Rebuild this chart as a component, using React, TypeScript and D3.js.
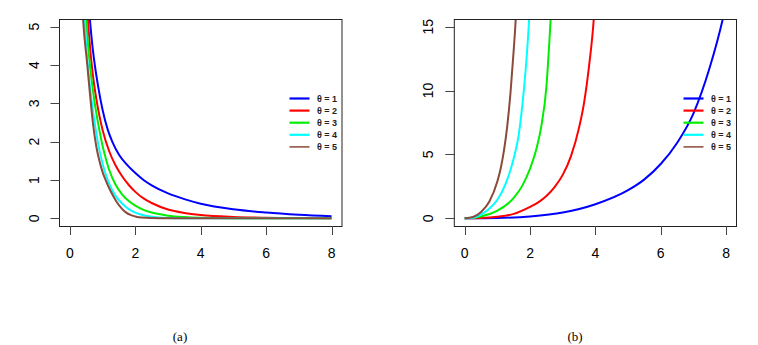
import React from "react";
import * as d3 from "d3";

// ---------- data ----------
const thetaLabels = ["θ = 1", "θ = 2", "θ = 3", "θ = 4", "θ = 5"];
const seriesColors = ["#0000ff", "#ff0000", "#00ee00", "#00ffff", "#8b4a3a"];
const xTicks = [0, 2, 4, 6, 8];
const yTicksA = [0, 1, 2, 3, 4, 5];
const yTicksB = [0, 5, 10, 15];

// panel (a): decreasing curves
const a1: [number, number][] = [[0.55, 6.0], [0.61, 5.2], [0.68, 4.55], [0.76, 4.0], [0.86, 3.45], [1.0, 2.82], [1.16, 2.3], [1.3, 1.99], [1.5, 1.66], [1.72, 1.42], [2.0, 1.18], [2.25, 1.0], [2.5, 0.86], [3, 0.65], [3.5, 0.5], [4, 0.38], [5, 0.235], [6, 0.152], [7, 0.095], [8, 0.055]];
const a2: [number, number][] = [[0.5, 6.0], [0.55, 5.2], [0.62, 4.4], [0.7, 3.75], [0.8, 3.15], [0.9, 2.68], [1.0, 2.3], [1.2, 1.75], [1.4, 1.37], [1.6, 1.09], [1.8, 0.87], [2.0, 0.69], [2.25, 0.52], [2.5, 0.4], [3, 0.23], [3.5, 0.14], [4, 0.085], [5, 0.035], [6, 0.015], [7, 0.007], [8, 0.003]];
const a3: [number, number][] = [[0.46, 6.0], [0.5, 5.2], [0.56, 4.45], [0.63, 3.85], [0.7, 3.35], [0.8, 2.78], [0.9, 2.3], [1.0, 1.88], [1.1, 1.55], [1.2, 1.26], [1.4, 0.87], [1.6, 0.62], [1.8, 0.45], [2.0, 0.33], [2.25, 0.22], [2.5, 0.15], [3, 0.07], [3.5, 0.033], [4, 0.015], [5, 0.003], [8, 0.0]];
const a4: [number, number][] = [[0.41, 6.0], [0.45, 5.2], [0.5, 4.5], [0.58, 3.7], [0.68, 2.95], [0.79, 2.3], [0.9, 1.78], [1.0, 1.42], [1.1, 1.13], [1.2, 0.9], [1.4, 0.58], [1.6, 0.38], [1.8, 0.24], [2.0, 0.15], [2.25, 0.08], [2.5, 0.04], [3, 0.01], [3.5, 0.002], [4, 0.0], [8, 0.0]];
const a5: [number, number][] = [[0.35, 6.0], [0.4, 5.2], [0.53, 4.0], [0.6, 3.35], [0.7, 2.5], [0.8, 1.9], [0.9, 1.5], [1.0, 1.2], [1.1, 0.98], [1.25, 0.7], [1.42, 0.44], [1.6, 0.24], [1.72, 0.15], [1.85, 0.09], [2.0, 0.05], [2.2, 0.02], [2.5, 0.006], [3, 0.001], [8, 0.0]];

// panel (b): increasing curves
const b1: [number, number][] = [[0, 0], [1, 0.03], [2, 0.15], [3, 0.45], [4, 1.1], [5, 2.2], [5.5, 3.05], [6, 4.25], [6.5, 5.9], [7, 8.2], [7.5, 11.8], [7.9, 15.6], [8.1, 18]];
const b2: [number, number][] = [[0, 0], [0.5, 0.02], [1, 0.12], [1.5, 0.35], [2, 0.9], [2.25, 1.25], [2.5, 1.75], [2.75, 2.45], [3, 3.4], [3.25, 4.85], [3.5, 7.1], [3.65, 9.0], [3.8, 11.8], [3.95, 15.6], [4.02, 18.5]];
const b3: [number, number][] = [[0, 0], [0.5, 0.15], [1, 0.6], [1.5, 1.6], [1.75, 2.5], [2, 3.9], [2.2, 5.5], [2.35, 7.3], [2.5, 10.3], [2.63, 15.6], [2.7, 19]];
const b4: [number, number][] = [[0, 0], [0.25, 0.05], [0.5, 0.3], [0.75, 0.75], [1, 1.45], [1.25, 2.7], [1.5, 4.7], [1.65, 6.5], [1.8, 9.8], [1.9, 12.8], [1.97, 15.6], [2.02, 18.5]];
const b5: [number, number][] = [[0, 0], [0.25, 0.1], [0.5, 0.5], [0.75, 1.3], [1, 2.9], [1.1, 3.9], [1.2, 5.3], [1.3, 7.2], [1.4, 9.8], [1.5, 13.2], [1.56, 15.6], [1.6, 18]];

const seriesA = [a1, a2, a3, a4, a5];
const seriesB = [b1, b2, b3, b4, b5];

const W = 758;
const H = 345;
const FONT = "'Liberation Sans', Arial, sans-serif";

type PanelProps = {
  id: string;
  left: number;
  right: number;
  yMax: number;
  yTicks: number[];
  series: [number, number][][];
  legendX: number;
  caption: string;
  captionX: number;
};

function Panel({ id, left, right, yMax, yTicks, series, legendX, caption, captionX }: PanelProps) {
  const top = 19;
  const bottom = 226;
  const x = d3.scaleLinear().domain([-0.32, 8.32]).range([left, right]);
  const pad = yMax * 0.04;
  const y = d3.scaleLinear().domain([-pad, yMax + pad]).range([bottom, top]);
  const line = d3
    .line<[number, number]>()
    .x((d) => x(d[0]))
    .y((d) => y(d[1]))
    .curve(d3.curveMonotoneX);
  return (
    <g>
      <defs>
        <clipPath id={`clip-${id}`}>
          <rect x={left} y={top} width={right - left} height={bottom - top} />
        </clipPath>
      </defs>
      <g clipPath={`url(#clip-${id})`}>
        {series.map((s, i) => (
          <path key={i} d={line(s) || ""} fill="none" stroke={seriesColors[i]} strokeWidth={2} strokeLinejoin="round" />
        ))}
      </g>
      <rect x={left} y={top + 0.5} width={right - left} height={bottom - top} fill="none" stroke="#222" strokeWidth={1} />
      {/* x axis */}
      <line x1={x(0)} x2={x(8)} y1={bottom + 0.5} y2={bottom + 0.5} stroke="#222" />
      {xTicks.map((t) => (
        <g key={t}>
          <line x1={Math.round(x(t)) + 0.5} x2={Math.round(x(t)) + 0.5} y1={bottom} y2={bottom + 9} stroke="#444" />
          <text x={x(t)} y={258} textAnchor="middle" fontFamily={FONT} fontSize={14} fill="#000">
            {t}
          </text>
        </g>
      ))}
      {/* y axis */}
      {yTicks.map((t) => (
        <g key={t}>
          <line x1={left - 9} x2={left} y1={Math.round(y(t)) + 0.5} y2={Math.round(y(t)) + 0.5} stroke="#444" />
          <text
            transform={`translate(${left - 21},${y(t)}) rotate(-90)`}
            textAnchor="middle"
            fontFamily={FONT}
            fontSize={14}
            fill="#000"
          >
            {t}
          </text>
        </g>
      ))}
      {/* legend */}
      {thetaLabels.map((lab, i) => {
        const ly = 98.5 + i * 12.1;
        return (
          <g key={lab}>
            <line x1={legendX} x2={legendX + 20} y1={ly} y2={ly} stroke={seriesColors[i]} strokeWidth={i === 4 ? 1.5 : 2.2} />
            <text x={legendX + 27.5} y={ly} dominantBaseline="central" fontFamily={FONT} fontSize={9} fontWeight="bold" fill="#222">
              {lab}
            </text>
          </g>
        );
      })}
      <text x={captionX} y={341} textAnchor="middle" fontFamily="'Liberation Serif', 'Times New Roman', serif" fontSize={13} fill="#000">
        {caption}
      </text>
    </g>
  );
}

export default function App() {
  return (
    <svg width={W} height={H} style={{ position: "absolute", left: 0, top: 0, background: "#fff" }}>
      <rect width={W} height={H} fill="#fff" />
      <Panel id="a" left={59.5} right={342} yMax={5} yTicks={yTicksA} series={seriesA} legendX={289.5} caption="(a)" captionX={180} />
      <Panel id="b" left={454.3} right={736.5} yMax={15} yTicks={yTicksB} series={seriesB} legendX={683.5} caption="(b)" captionX={575} />
    </svg>
  );
}
